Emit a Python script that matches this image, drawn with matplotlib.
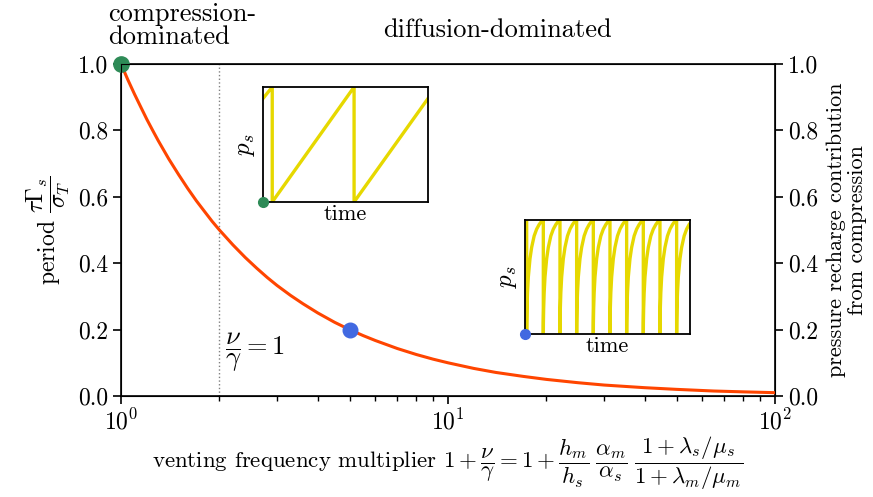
import numpy as np
import matplotlib
matplotlib.use("Agg")
import matplotlib.pyplot as plt

plt.rcParams["font.family"] = "serif"
plt.rcParams["font.serif"] = ["cmr10", "DejaVu Serif"]
plt.rcParams["mathtext.fontset"] = "cm"
plt.rcParams["axes.formatter.use_mathtext"] = True
plt.rcParams["font.size"] = 17

# period vs venting frequency multiplier
multiplier = [1.0, 1.05, 1.1, 1.15, 1.2, 1.25, 1.3, 1.4, 1.5, 1.6, 1.7, 1.8,
              1.9, 2.0, 2.2, 2.4, 2.6, 2.8, 3.0, 3.3, 3.6, 4.0, 4.5, 5.0, 5.5,
              6.0, 7.0, 8.0, 9.0, 10.0, 12.0, 14.0, 17.0, 20.0, 25.0, 30.0,
              40.0, 50.0, 65.0, 80.0, 100.0]
period = [1.000, 0.952, 0.909, 0.870, 0.833, 0.800, 0.769, 0.714, 0.667,
          0.625, 0.588, 0.556, 0.526, 0.500, 0.455, 0.417, 0.385, 0.357,
          0.333, 0.303, 0.278, 0.250, 0.222, 0.200, 0.182, 0.167, 0.143,
          0.125, 0.111, 0.100, 0.083, 0.071, 0.059, 0.050, 0.040, 0.033,
          0.025, 0.020, 0.015, 0.0125, 0.010]

# highlighted cases
compress_pt = (1.0, 1.0)
diffuse_pt = (5.0, 0.2)
threshold = 2.0

# inset 1: slow linear recharge (vertices of the sawtooth)
saw_t = [0.0, 0.056, 0.056, 0.552, 0.552, 1.0]
saw_p = [0.90, 1.0, 0.0, 1.0, 0.0, 0.90]

# inset 2: fast diffusive recharge, one tooth shape and the venting times
tooth_u = [0.0, 0.005, 0.02, 0.05, 0.1, 0.2, 0.3, 0.45, 0.6, 0.75, 0.9, 1.0]
tooth_p = [0.0, 0.10, 0.22, 0.36, 0.50, 0.66, 0.76, 0.86, 0.92, 0.96, 0.99, 1.0]
vent_times = [0.01, 0.111, 0.212, 0.313, 0.414, 0.515, 0.616, 0.717, 0.818, 0.919]

RED = "#ff4500"
GREEN = "#2e8b57"
BLUE = "#4169e1"
YELLOW = "#e6d800"

fig = plt.figure(figsize=(8.73, 4.97), dpi=100)
ax = fig.add_axes([121 / 873, 1 - 396 / 497, 654 / 873, 332 / 497])

ax.plot(multiplier, period, color=RED, lw=2.2, zorder=3)
ax.axvline(threshold, color="gray", ls=":", lw=1.0, zorder=1)
ax.plot(*compress_pt, "o", color=GREEN, ms=11, clip_on=False, zorder=5)
ax.plot(*diffuse_pt, "o", color=BLUE, ms=10.5, clip_on=False, zorder=5)

ax.set_xscale("log")
ax.set_xlim(1, 100)
ax.set_ylim(0, 1)
ticks = np.arange(0, 1.01, 0.2)
ax.set_yticks(ticks)
ax.set_yticklabels([f"{v:.1f}" for v in ticks])
ax.tick_params(direction="out", length=6, width=1.2)
ax.tick_params(which="minor", direction="out", length=3.5, width=1.0)
for s in ax.spines.values():
    s.set_linewidth(1.2)

ax.set_ylabel(r"period $\dfrac{\tau\Gamma_s}{\sigma_T}$", labelpad=4)
ax.set_xlabel(r"venting frequency multiplier $1+\dfrac{\nu}{\gamma}=1+\dfrac{h_m}{h_s}\;"
              r"\dfrac{\alpha_m}{\alpha_s}\;\dfrac{1+\lambda_s/\mu_s}{1+\lambda_m/\mu_m}$",
              labelpad=0, fontsize=16.5)

ax2 = ax.twinx()
ax2.set_ylim(0, 1)
ax2.set_yticks(ticks)
ax2.set_yticklabels([f"{v:.1f}" for v in ticks])
ax2.tick_params(direction="out", length=6, width=1.2)
ax2.set_ylabel("pressure recharge contribution\nfrom compression", labelpad=6,
               linespacing=1.05, fontsize=16)

fig.text(108 / 873, 1 - 2 / 497, "compression-\ndominated", ha="left", va="top",
         fontsize=19, linespacing=1.0)
fig.text(497 / 873, 1 - 30 / 497, "diffusion-dominated", ha="center",
         va="center", fontsize=19)
ax.text(2.08, 0.13, r"$\dfrac{\nu}{\gamma}=1$", ha="left", va="center", fontsize=19)

# inset 1
in1 = fig.add_axes([263 / 873, 1 - 202 / 497, 165 / 873, 115 / 497])
in1.plot(saw_t, saw_p, color=YELLOW, lw=2.4)
in1.plot(0, 0, "o", color=GREEN, ms=7, clip_on=False, zorder=5)

# inset 2
t2 = [0.0, vent_times[0]]
p2 = [0.99, 1.0]
for i, tv in enumerate(vent_times):
    span = (vent_times[i + 1] - tv) if i + 1 < len(vent_times) else 0.101
    for u, p in zip(tooth_u, tooth_p):
        t = tv + u * span
        if t <= 1.0:
            t2.append(t)
            p2.append(p)
in2 = fig.add_axes([525 / 873, 1 - 334 / 497, 165 / 873, 114 / 497])
in2.plot(t2, p2, color=YELLOW, lw=2.4)
in2.plot(0, 0, "o", color=BLUE, ms=7, clip_on=False, zorder=5)

for a in (in1, in2):
    a.set_xlim(0, 1)
    a.set_ylim(0, 1)
    a.set_xticks([])
    a.set_yticks([])
    a.set_xlabel("time", fontsize=16, labelpad=2)
    a.set_ylabel(r"$p_s$", fontsize=18, labelpad=4)
    for s in a.spines.values():
        s.set_linewidth(1.3)

fig.savefig("out.png", dpi=100)
